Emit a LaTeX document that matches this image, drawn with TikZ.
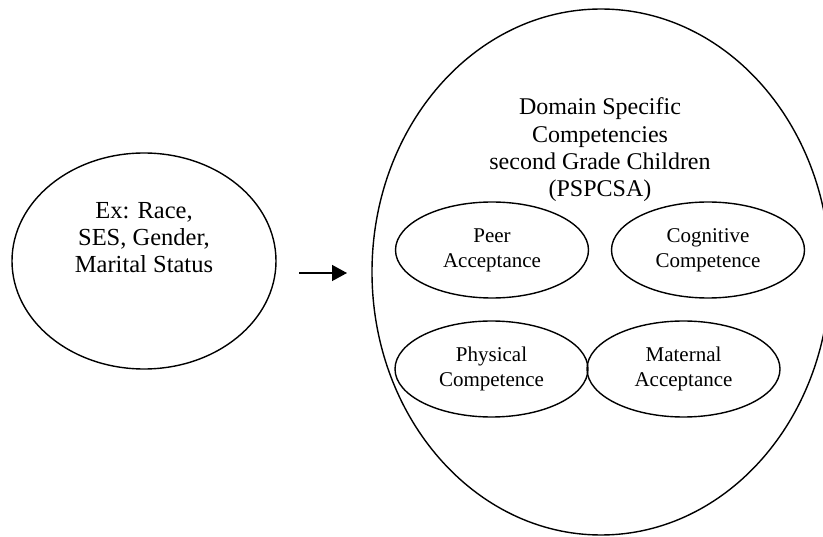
\documentclass[tikz,border=0pt]{standalone}
\usepackage{fontspec}
\setmainfont{Liberation Serif}
\usetikzlibrary{shapes.geometric,arrows.meta}
\begin{document}
\begin{tikzpicture}[x=1pt,y=-1pt,
  oval/.style={draw=black, line width=1.4pt, ellipse, inner sep=0pt},
  small/.style={oval, minimum width=193pt, minimum height=96pt},
  bigtxt/.style={align=center, font=\fontsize{24}{27.3}\selectfont, inner sep=0pt},
  smalltxt/.style={align=center, font=\fontsize{21}{25}\selectfont, inner sep=0pt},
  conn/.style={line width=1.4pt, -{Triangle[length=15pt,width=16pt]}}]
\useasboundingbox (0,0) rectangle (823,537);
\clip (0,0) rectangle (823,537);
% left ellipse
\node[oval, minimum width=264pt, minimum height=216pt] (demo) at (144,261) {};
\node[bigtxt, font=\fontsize{24.5}{27}\selectfont] (demotxt) at (144,238) {Ex: Race,\\SES, Gender,\\Marital Status};
% big ellipse
\node[oval, minimum width=458pt, minimum height=526pt] (dom) at (601,272) {};
\node[bigtxt] (domtxt) at (600,150) {Domain Specific\\Competencies\\second Grade Children\\(PSPCSA)};
% small ellipses
\node[small, smalltxt] (peer) at (492,250) {Peer\\Acceptance};
\node[small, smalltxt] (cog) at (708,250) {Cognitive\\Competence};
\node[small, smalltxt] (phys) at (491.5,369) {Physical\\Competence};
\node[small, smalltxt] (mat) at (683.5,369) {Maternal\\Acceptance};
% arrow
\coordinate (a1) at (299,273);
\coordinate (a2) at (347,273);
\draw[conn] (a1) -- (a2);
\end{tikzpicture}
\end{document}
